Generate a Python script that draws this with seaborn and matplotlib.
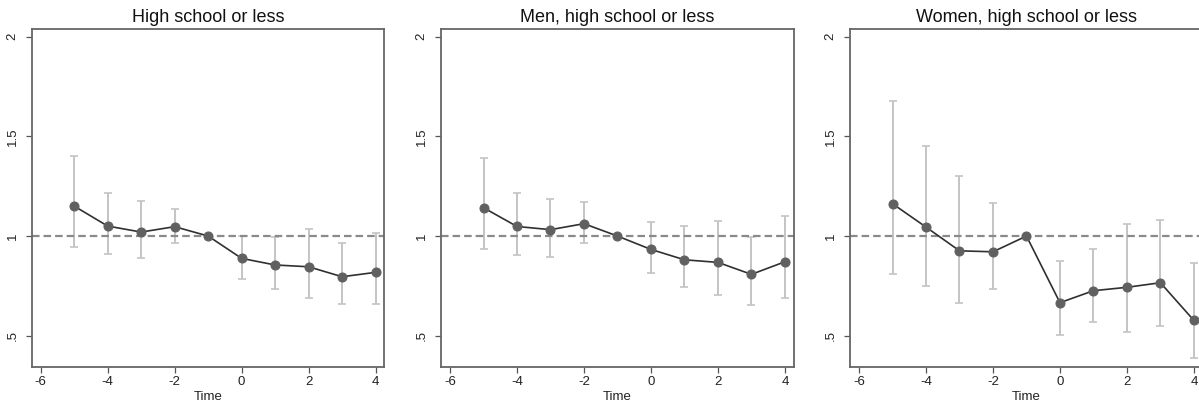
import numpy as np
import pandas as pd
import matplotlib
matplotlib.use("Agg")
import matplotlib.pyplot as plt
import seaborn as sns

# event time
time = [-5, -4, -3, -2, -1, 0, 1, 2, 3, 4]

titles = ["High school or less", "Men, high school or less", "Women, high school or less"]

# point estimates (t = -1 is the reference period)
est_all = [1.150, 1.050, 1.020, 1.047, 1.0, 0.888, 0.855, 0.846, 0.796, 0.818]
est_men = [1.142, 1.048, 1.032, 1.062, 1.0, 0.933, 0.881, 0.868, 0.808, 0.871]
est_women = [1.162, 1.045, 0.926, 0.921, 1.0, 0.666, 0.726, 0.743, 0.766, 0.577]

# confidence intervals
lo_all = [0.945, 0.908, 0.890, 0.965, np.nan, 0.786, 0.733, 0.691, 0.658, 0.661]
hi_all = [1.402, 1.217, 1.177, 1.134, np.nan, 1.000, 0.997, 1.035, 0.963, 1.013]
lo_men = [0.937, 0.906, 0.896, 0.965, np.nan, 0.813, 0.743, 0.704, 0.654, 0.691]
hi_men = [1.393, 1.216, 1.187, 1.170, np.nan, 1.070, 1.050, 1.075, 0.997, 1.102]
lo_women = [0.808, 0.751, 0.663, 0.733, np.nan, 0.505, 0.567, 0.520, 0.547, 0.387]
hi_women = [1.677, 1.453, 1.301, 1.164, np.nan, 0.876, 0.933, 1.060, 1.079, 0.865]

yticks = [0.5, 1, 1.5, 2]
ytick_labels = [".5", "1", "1.5", "2"]
xticks = [-6, -4, -2, 0, 2, 4]

sns.set_style("white")
plt.rcParams["font.family"] = ["Liberation Sans", "DejaVu Sans"]

fig = plt.figure(figsize=(11.99, 4.09), dpi=100)

# axes positions in pixels (left, right), last panel runs off the right edge
W, H = 1199, 409
lefts = [31.7, 441.0, 850.0]
width = 352.6
bottom_px, top_px = 367.3, 29.0

series = [(est_all, lo_all, hi_all), (est_men, lo_men, hi_men), (est_women, lo_women, hi_women)]

for i, (est, lo, hi) in enumerate(series):
    ax = fig.add_axes([lefts[i] / W, (H - bottom_px) / H, width / W, (bottom_px - top_px) / H])
    df = pd.DataFrame({"time": time, "est": est, "lo": lo, "hi": hi})
    ci = df.dropna()

    ax.errorbar(ci["time"], ci["est"], yerr=[ci["est"] - ci["lo"], ci["hi"] - ci["est"]],
                fmt="none", ecolor="#c4c4c4", elinewidth=1.4, capsize=2.6, capthick=1.2, zorder=1)
    ax.axhline(1, color="#8a8a8a", lw=1.6, dashes=(3.4, 1.8), zorder=2)
    sns.lineplot(data=df, x="time", y="est", ax=ax, color="#303030", lw=1.2,
                 marker="o", markersize=6.5, markerfacecolor="#606060",
                 markeredgecolor="#606060", zorder=3)

    ax.set_xlim(-6.27, 4.26)
    ax.set_ylim(0.342, 2.038)
    ax.set_xticks(xticks)
    ax.set_xticklabels([str(t) for t in xticks])
    ax.set_yticks(yticks)
    ax.set_yticklabels(ytick_labels, rotation=90, va="center")
    ax.set_xlabel("Time", fontsize=9.5, labelpad=2, color="#222222")
    ax.set_ylabel("")
    ax.set_title(titles[i], fontsize=13, pad=5, color="#111111")
    ax.tick_params(axis="both", which="major", direction="out", length=4.5, width=0.9,
                   color="#555555", labelsize=9.5, labelcolor="#222222", pad=2,
                   bottom=True, left=True)
    ax.tick_params(axis="y", pad=5)
    for sp in ax.spines.values():
        sp.set_color("#666666")
        sp.set_linewidth(1.3)

fig.savefig("out.png", dpi=100)
